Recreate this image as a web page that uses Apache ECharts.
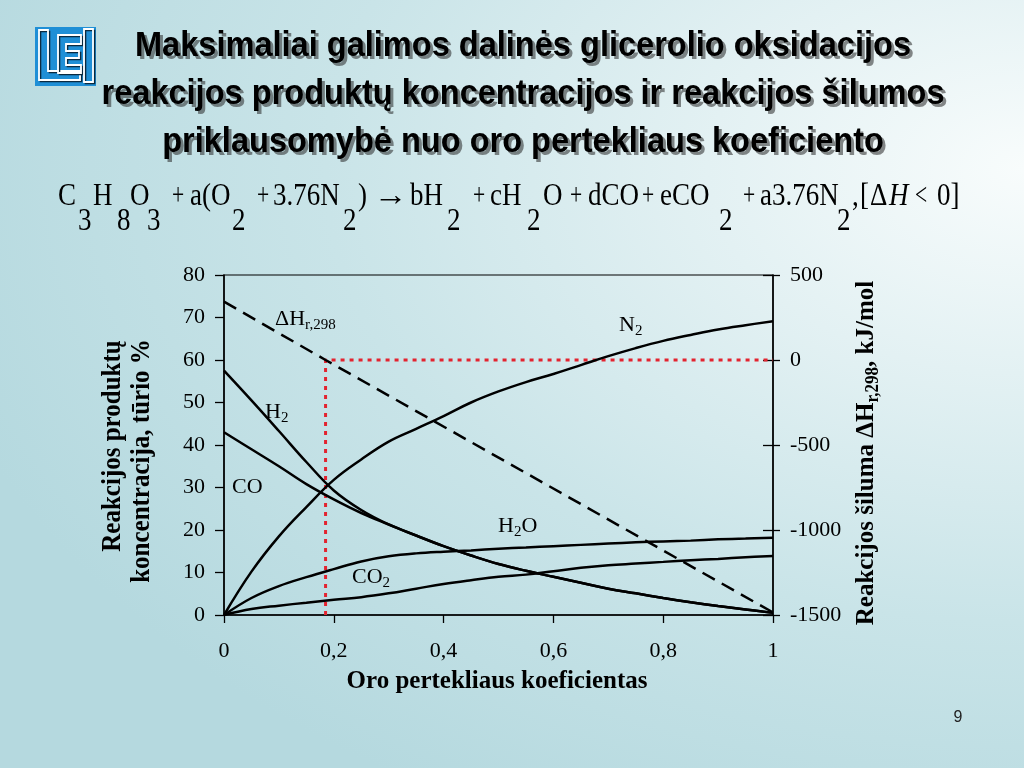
<!DOCTYPE html>
<html><head><meta charset="utf-8">
<script src="https://cdn.jsdelivr.net/npm/echarts@6/dist/echarts.min.js"></script>
<style>
html,body{margin:0;padding:0;width:1024px;height:768px;overflow:hidden;}
body{background: radial-gradient(ellipse 110% 95% at 100% 22%, #f8fcfc 0%, #e3f1f3 28%, #c9e4e8 62%, #b5d9df 100%);}
#c{width:1024px;height:768px;}
</style></head><body><div id="c"></div>
<script>
// ---- data ----
const alpha = [0,0.05,0.1,0.15,0.2,0.25,0.3,0.35,0.4,0.45,0.5,0.55,0.6,0.65,0.7,0.75,0.8,0.85,0.9,0.95,1];
const h2  = [57.5,50.5,43.3,36.0,29.3,24.7,21.3,18.7,16.2,14.0,12.0,10.4,9.0,7.6,6.2,5.1,4.0,3.0,2.1,1.3,0.5];
const co  = [43,39,35,30.8,27.2,24.0,21.3,18.7,16.2,14.0,12.0,10.4,9.0,7.6,6.2,5.1,4.0,3.0,2.1,1.3,0.5];
const h2o = [0,4.0,6.8,8.9,10.8,12.6,13.8,14.5,14.9,15.2,15.6,15.9,16.2,16.5,16.8,17.1,17.3,17.5,17.8,18.0,18.2];
const co2 = [0,1.4,2.2,2.9,3.6,4.2,5.1,6.2,7.3,8.2,9.0,9.5,10.3,11.1,11.7,12.1,12.5,12.9,13.2,13.6,13.9];
const n2  = [0,10.2,18.5,25.4,31.8,36.6,40.8,43.8,46.8,50.0,52.6,54.8,56.7,58.8,60.9,62.8,64.5,65.9,67.2,68.2,69.1];
const dhAlpha = [0, 0.185, 1];
const dhValue = [343, 0, -1485];      // kJ/mol
const refAlpha = 0.185;               // alpha where dH = 0
const xTicks = {min:0, max:1, interval:0.2};
const yLeft = {min:0, max:80, interval:10};
const yRight = {min:-1500, max:500, interval:500};

const SERIF = '"Liberation Serif","Times New Roman",serif';
const SANS = '"Liberation Sans",Arial,sans-serif';
const pair = (xs, ys) => xs.map((x,i)=>[x, ys[i]]);

const chart = echarts.init(document.getElementById('c'));

const curve = (name, ys) => ({
  name, type:'line', data: pair(alpha, ys), smooth:0.4, symbol:'none', yAxisIndex:0,
  lineStyle:{color:'#000', width:2.5}, z:3, silent:true
});

// equation pieces: [text, left x, kind] kind 0 main, 1 subscript, 2 italic, 3 operator, 4 arrow
const eq = [['C',58,0],['3',78,1],['H',93,0],['8',117,1],['O',130,0],['3',147,1],['+',172,3],
 ['a(O',190,0],['2',232,1],['+',257,3],['3.76N',273,0],['2',343,1],[')',358,0],['→',374,4],
 ['bH',410,0],['2',447,1],['+',473,3],['cH',490,0],['2',527,1],['O',543,0],['+',570,3],
 ['dCO',588,0],['+',642,3],['eCO',660,0],['2',719,1],['+',743,3],['a3.76N',760,0],['2',837,1],
 [',',852,0],['[',860,0],['Δ',870,0],['H',889,2],['<',915,3],['0]',937,0]];

const graphics = [];
// title
const titleLines = ['Maksimaliai galimos dalinės glicerolio oksidacijos',
  'reakcijos produktų koncentracijos ir reakcijos šilumos',
  'priklausomybė nuo oro pertekliaus koeficiento'];
titleLines.forEach((t,i)=>{
  graphics.push({type:'text', x:526, y:49+i*48, scaleX:0.93, z:1, style:{text:t, fill:'rgba(40,40,40,0.55)', font:'bold 35px '+SANS, textAlign:'center', textVerticalAlign:'middle'}});
  graphics.push({type:'text', x:523, y:46+i*48, scaleX:0.93, z:2, style:{text:t, fill:'#000', font:'bold 35px '+SANS, textAlign:'center', textVerticalAlign:'middle'}});
});
// equation
eq.forEach(([t,x,s])=>{
  graphics.push({type:'text', x:x, y: s===1 ? 222 : 196.5, scaleY:1.18, scaleX: s===3 ? 0.8 : (s===4 ? 1.25 : 1),
    style:{text:t, fill:'#000', font:(s===2?'italic ':'')+'27px '+SERIF, textAlign:'left', textVerticalAlign:'middle'}});
});
// logo
graphics.push({type:'rect', shape:{x:35,y:27,width:61,height:59}, style:{fill:'#1f8fd6'}});
const logoShapes = [
  [[39,30],[48,30],[48,71],[80,71],[80,80],[39,80]],
  [[58,35],[81,35],[81,44],[66,44],[66,51],[79,51],[79,58],[66,58],[66,65],[81,65],[81,73],[58,73]],
  [[84,29],[93,29],[93,82],[84,82]]
];
logoShapes.forEach(p=>{
  graphics.push({type:'polygon', shape:{points:p.map(q=>[q[0]+1.5,q[1]+1.5])}, style:{fill:'none', stroke:'#0a2a40', lineWidth:1.6}});
  graphics.push({type:'polygon', shape:{points:p}, style:{fill:'none', stroke:'#fff', lineWidth:1.8}});
});
// curve labels
const R = {
  m:{fontFamily:SERIF, fontSize:22, color:'#000', verticalAlign:'top', lineHeight:22},
  s:{fontFamily:SERIF, fontSize:15, color:'#000', verticalAlign:'top', lineHeight:15, padding:[10,0,0,0]}
};
const labels = [['{m|ΔH}{s|r,298}',275,308],['{m|N}{s|2}',619,314],['{m|H}{s|2}',265,401],
  ['{m|CO}',232,476],['{m|H}{s|2}{m|O}',498,515],['{m|CO}{s|2}',352,566]];
labels.forEach(([t,x,y])=>graphics.push({type:'text', x, y, z:10, style:{text:t, rich:R, textAlign:'left', textVerticalAlign:'top'}}));
// axis names
const RB = {
  b:{fontFamily:SERIF, fontSize:25, fontWeight:'bold', color:'#000', verticalAlign:'top', lineHeight:25},
  bs:{fontFamily:SERIF, fontSize:17, fontWeight:'bold', color:'#000', verticalAlign:'top', lineHeight:17, padding:[11,0,0,0]}
};
graphics.push({type:'text', x:113, y:446, rotation:Math.PI/2, scaleY:1.08, style:{text:'Reakcijos produktų', fill:'#000', font:'bold 25px '+SERIF, textAlign:'center', textVerticalAlign:'middle'}});
graphics.push({type:'text', x:142, y:461, rotation:Math.PI/2, scaleY:1.08, style:{text:'koncentracija, tūrio %', fill:'#000', font:'bold 25px '+SERIF, textAlign:'center', textVerticalAlign:'middle'}});
graphics.push({type:'text', x:866, y:453, rotation:Math.PI/2, scaleY:1.05, style:{text:'{b|Reakcijos šiluma ΔH}{bs|r,298}{b|, kJ/mol}', rich:RB, textAlign:'center', textVerticalAlign:'middle'}});
graphics.push({type:'text', x:497, y:681, scaleY:1.05, style:{text:'Oro pertekliaus koeficientas', fill:'#000', font:'bold 25px '+SERIF, textAlign:'center', textVerticalAlign:'middle'}});
// page number
graphics.push({type:'text', x:958, y:718, style:{text:'9', fill:'#222', font:'16px '+SANS, textAlign:'center', textVerticalAlign:'middle'}});

const axisFont = {fontFamily:SERIF, fontSize:22, color:'#000'};
chart.setOption({
  backgroundColor:'transparent',
  animation:false,
  grid:{left:224, right:251, top:275, bottom:153, containLabel:false, show:true, borderColor:'#000', borderWidth:1.2},
  xAxis:{type:'value', ...xTicks, axisLine:{show:true, lineStyle:{color:'#000', width:1.5}}, axisTick:{show:true, length:8, lineStyle:{color:'#000', width:1.3}},
    splitLine:{show:false}, axisLabel:{...axisFont, margin:25, formatter:v=>String(Math.round(v*10)/10).replace('.',',')}},
  yAxis:[
    {type:'value', position:'left', ...yLeft, axisLine:{show:true, lineStyle:{color:'#000', width:1.5}}, axisTick:{show:true, length:9, lineStyle:{color:'#000', width:1.3}},
      splitLine:{show:false}, axisLabel:{...axisFont, margin:19, formatter:v=>String(v)}},
    {type:'value', position:'right', ...yRight, axisLine:{show:true, lineStyle:{color:'#000', width:1.5}}, axisTick:{show:true, length:7, lineStyle:{color:'#000', width:1.3}},
      splitLine:{show:false}, axisLabel:{...axisFont, margin:17, formatter:v=>String(v)}},
    {type:'value', position:'right', ...yRight, axisLine:{show:false}, axisTick:{show:true, inside:true, length:10, lineStyle:{color:'#000', width:1.3}},
      splitLine:{show:false}, axisLabel:{show:false}}
  ],
  series:[
    curve('H2', h2), curve('CO', co), curve('H2O', h2o), curve('CO2', co2), curve('N2', n2),
    {name:'dH', type:'line', yAxisIndex:1, data:pair(dhAlpha, dhValue), symbol:'none', silent:true, z:3,
      lineStyle:{color:'#000', width:2.5, type:[14,8]}},
    {name:'ref', type:'line', yAxisIndex:1, data:[[refAlpha, yRight.min],[refAlpha, 0],[xTicks.max, 0]], symbol:'none', silent:true, z:2,
      lineStyle:{color:'#e3232f', width:3, type:[4,5]}}
  ],
  graphic: graphics
});
</script></body></html>
